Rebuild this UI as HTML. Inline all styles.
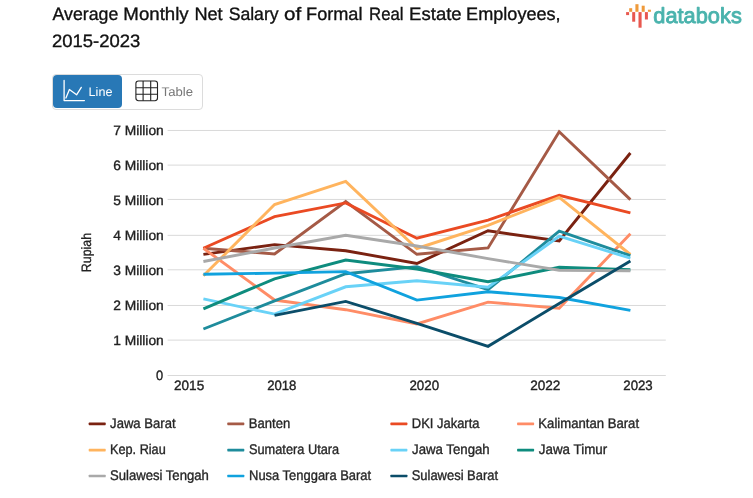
<!DOCTYPE html>
<html lang="en">
<head>
<meta charset="utf-8">
<title>Average Monthly Net Salary of Formal Real Estate Employees, 2015-2023</title>
<style>
html,body{margin:0;padding:0;background:#fff;}
body{width:753px;height:498px;position:relative;overflow:hidden;font-family:"Liberation Sans",sans-serif;color:#111;}
.abs{position:absolute;white-space:nowrap;}
svg{will-change:transform;text-rendering:geometricPrecision;}
#title{left:0;top:0;width:620px;height:56px;margin:0;font-size:18px;font-weight:normal;line-height:0;}
#title svg{display:block;}
#logo{left:620px;top:0;width:133px;height:34px;}
#tabs{left:52px;top:74px;width:149px;height:34px;border:1px solid #dcdcdc;border-radius:4px;}
#tab-line{left:0;top:0;width:69px;height:33px;background:#2878b6;border-radius:4px;}
#tabsvg{left:-1px;top:-1px;}
#chart{left:0;top:0;width:753px;height:498px;}
</style>
</head>
<body>
<h1 id="title" class="abs"><svg width="620" height="56" viewBox="0 0 620 56"><text font-family="Liberation Sans, sans-serif" font-size="18" fill="#111" stroke="#111" stroke-width="0.35"><tspan id="w_average" x="52.60" y="19.90" textLength="65.69" lengthAdjust="spacingAndGlyphs">Average</tspan> <tspan id="w_monthly" x="123.35" y="19.90" textLength="65.33" lengthAdjust="spacingAndGlyphs">Monthly</tspan> <tspan id="w_net" x="194.41" y="19.90" textLength="28.26" lengthAdjust="spacingAndGlyphs">Net</tspan> <tspan id="w_salary" x="228.64" y="19.90" textLength="50.00" lengthAdjust="spacingAndGlyphs">Salary</tspan> <tspan id="w_of" x="283.99" y="19.90" textLength="17.17" lengthAdjust="spacingAndGlyphs">of</tspan> <tspan id="w_formal" x="306.10" y="19.90" textLength="56.38" lengthAdjust="spacingAndGlyphs">Formal</tspan> <tspan id="w_real" x="369.10" y="19.90" textLength="34.47" lengthAdjust="spacingAndGlyphs">Real</tspan> <tspan id="w_estate" x="409.14" y="19.90" textLength="52.54" lengthAdjust="spacingAndGlyphs">Estate</tspan> <tspan id="w_employees" x="466.13" y="19.90" textLength="94.53" lengthAdjust="spacingAndGlyphs">Employees,</tspan> <tspan id="w_years" x="51.97" y="47.00" textLength="88.27" lengthAdjust="spacingAndGlyphs">2015-2023</tspan></text></svg></h1>

<svg id="logo" class="abs" viewBox="620 0 133 34">
  <g fill="#e8584f">
    <rect x="626.1" y="12.1" width="3" height="3"/>
    <rect x="632.2" y="12.1" width="3" height="9.6"/>
    <rect x="638.5" y="12.1" width="3.1" height="15.6"/>
    <rect x="644.9" y="12.1" width="3" height="7.4"/>
  </g>
  <g fill="#ef9a3a">
    <rect x="629.2" y="8.2" width="3" height="3.6"/>
    <rect x="635.4" y="4.2" width="3.1" height="7.6"/>
    <rect x="641.7" y="5.7" width="3" height="6.1"/>
    <rect x="647.9" y="9.7" width="3" height="2.1"/>
  </g>
  <text id="logotext" x="653.3" y="23.3" font-family="Liberation Sans, sans-serif" font-weight="normal" font-size="21.8" fill="#4ab3ad" stroke="#4ab3ad" stroke-width="0.9" stroke-linejoin="round" textLength="88.5" lengthAdjust="spacingAndGlyphs">databoks</text>
</svg>

<div id="tabs" class="abs">
  <div id="tab-line" class="abs"></div>
  <svg id="tabsvg" class="abs" width="151" height="36" viewBox="52 74 151 36">
    <g fill="none" stroke="#fff" stroke-width="1.3" stroke-linecap="round" stroke-linejoin="round">
      <path d="M64.1 80.4V100.6H84.4"/>
      <path d="M65.9 98L69.4 89.5L76.6 94.8L81.3 87.4"/>
    </g>
    <g fill="none" stroke="#222" stroke-width="1.1">
      <rect x="135.9" y="81" width="21.6" height="19.7" rx="2.6"/>
      <path d="M143.1 81V100.7M150.7 81V100.7M135.9 87.7H157.5M135.9 94.3H157.5"/>
    </g>
    <text id="tline" x="88.6" y="95.6" font-family="Liberation Sans, sans-serif" font-size="12.5" fill="#fff" textLength="23.8" lengthAdjust="spacingAndGlyphs">Line</text>
    <text id="ttable" x="161.6" y="95.6" font-family="Liberation Sans, sans-serif" font-size="12.5" fill="#777" textLength="31.4" lengthAdjust="spacingAndGlyphs">Table</text>
  </svg>
</div>

<svg id="chart" class="abs" viewBox="0 0 753 498" font-family="Liberation Sans, sans-serif">
  <path id="grid" d="M167.6 130.47H665.8M167.6 165.10H665.8M167.6 199.45H665.8M167.6 235.34H665.8M167.6 269.80H665.8M167.6 305.47H665.8M167.6 340.10H665.8M167.6 375.50H665.8" stroke="#d9d9d9" stroke-width="1" fill="none"/>
  <text id="y0" x="163.80" y="134.60" text-anchor="end" textLength="50.63" lengthAdjust="spacingAndGlyphs" fill="#222" stroke="#222" stroke-width="0.35" font-size="13.6">7 Million</text>
  <text id="y1" x="163.80" y="169.60" text-anchor="end" textLength="50.63" lengthAdjust="spacingAndGlyphs" fill="#222" stroke="#222" stroke-width="0.35" font-size="13.6">6 Million</text>
  <text id="y2" x="163.80" y="204.60" text-anchor="end" textLength="50.63" lengthAdjust="spacingAndGlyphs" fill="#222" stroke="#222" stroke-width="0.35" font-size="13.6">5 Million</text>
  <text id="y3" x="163.80" y="239.60" text-anchor="end" textLength="50.63" lengthAdjust="spacingAndGlyphs" fill="#222" stroke="#222" stroke-width="0.35" font-size="13.6">4 Million</text>
  <text id="y4" x="163.80" y="274.60" text-anchor="end" textLength="50.63" lengthAdjust="spacingAndGlyphs" fill="#222" stroke="#222" stroke-width="0.35" font-size="13.6">3 Million</text>
  <text id="y5" x="163.80" y="309.60" text-anchor="end" textLength="50.63" lengthAdjust="spacingAndGlyphs" fill="#222" stroke="#222" stroke-width="0.35" font-size="13.6">2 Million</text>
  <text id="y6" x="163.80" y="344.60" text-anchor="end" textLength="50.63" lengthAdjust="spacingAndGlyphs" fill="#222" stroke="#222" stroke-width="0.35" font-size="13.6">1 Million</text>
  <text id="y7" x="163.16" y="379.60" text-anchor="end" textLength="7.15" lengthAdjust="spacingAndGlyphs" fill="#222" stroke="#222" stroke-width="0.35" font-size="13.6">0</text>
  <text id="x2015" x="189.11" y="390.30" text-anchor="middle" textLength="30.15" lengthAdjust="spacingAndGlyphs" fill="#222" stroke="#222" stroke-width="0.35" font-size="13.6">2015</text>
  <text id="x2018" x="281.78" y="390.30" text-anchor="middle" textLength="29.27" lengthAdjust="spacingAndGlyphs" fill="#222" stroke="#222" stroke-width="0.35" font-size="13.6">2018</text>
  <text id="x2020" x="424.24" y="390.30" text-anchor="middle" textLength="29.73" lengthAdjust="spacingAndGlyphs" fill="#222" stroke="#222" stroke-width="0.35" font-size="13.6">2020</text>
  <text id="x2022" x="545.31" y="390.30" text-anchor="middle" textLength="30.27" lengthAdjust="spacingAndGlyphs" fill="#222" stroke="#222" stroke-width="0.35" font-size="13.6">2022</text>
  <text id="x2023" x="638.01" y="390.30" text-anchor="middle" textLength="29.47" lengthAdjust="spacingAndGlyphs" fill="#222" stroke="#222" stroke-width="0.35" font-size="13.6">2023</text>
  <text id="l_jb" x="110.11" y="428.20" text-anchor="start" textLength="65.44" lengthAdjust="spacingAndGlyphs" fill="#262626" stroke="#262626" stroke-width="0.35" font-size="14">Jawa Barat</text>
  <text id="l_b" x="248.80" y="428.20" text-anchor="start" textLength="41.38" lengthAdjust="spacingAndGlyphs" fill="#262626" stroke="#262626" stroke-width="0.35" font-size="14">Banten</text>
  <text id="l_dki" x="411.84" y="428.20" text-anchor="start" textLength="67.60" lengthAdjust="spacingAndGlyphs" fill="#262626" stroke="#262626" stroke-width="0.35" font-size="14">DKI Jakarta</text>
  <text id="l_kb" x="538.35" y="428.20" text-anchor="start" textLength="100.72" lengthAdjust="spacingAndGlyphs" fill="#262626" stroke="#262626" stroke-width="0.35" font-size="14">Kalimantan Barat</text>
  <text id="l_kr" x="110.03" y="454.25" text-anchor="start" textLength="55.71" lengthAdjust="spacingAndGlyphs" fill="#262626" stroke="#262626" stroke-width="0.35" font-size="14">Kep. Riau</text>
  <text id="l_su" x="249.01" y="454.25" text-anchor="start" textLength="90.17" lengthAdjust="spacingAndGlyphs" fill="#262626" stroke="#262626" stroke-width="0.35" font-size="14">Sumatera Utara</text>
  <text id="l_jt" x="412.07" y="454.25" text-anchor="start" textLength="77.65" lengthAdjust="spacingAndGlyphs" fill="#262626" stroke="#262626" stroke-width="0.35" font-size="14">Jawa Tengah</text>
  <text id="l_jtm" x="538.82" y="454.25" text-anchor="start" textLength="68.36" lengthAdjust="spacingAndGlyphs" fill="#262626" stroke="#262626" stroke-width="0.35" font-size="14">Jawa Timur</text>
  <text id="l_st" x="109.95" y="480.20" text-anchor="start" textLength="98.90" lengthAdjust="spacingAndGlyphs" fill="#262626" stroke="#262626" stroke-width="0.35" font-size="14">Sulawesi Tengah</text>
  <text id="l_ntb" x="249.05" y="480.20" text-anchor="start" textLength="122.09" lengthAdjust="spacingAndGlyphs" fill="#262626" stroke="#262626" stroke-width="0.35" font-size="14">Nusa Tenggara Barat</text>
  <text id="l_sb" x="411.70" y="480.20" text-anchor="start" textLength="86.39" lengthAdjust="spacingAndGlyphs" fill="#262626" stroke="#262626" stroke-width="0.35" font-size="14">Sulawesi Barat</text>
  <text id="ytitle" font-size="13.6" fill="#222" stroke="#222" stroke-width="0.3" text-anchor="middle" textLength="39.3" lengthAdjust="spacingAndGlyphs" transform="translate(90.6 252.5) rotate(-90)">Rupiah</text>
  <g id="series" fill="none" stroke-width="2.9" stroke-linejoin="miter" stroke-linecap="butt">
    <polyline stroke="#7a2211" points="203.4,254.4 274.56,244.6 345.72,250.7 416.88,263.5 488.04,230.8 559.2,241.0 630.4,153.0"/>
    <polyline stroke="#a55a46" points="203.4,248.3 274.56,253.9 345.72,201.5 416.88,254.3 488.04,247.9 559.2,131.7 630.4,199.6"/>
    <polyline stroke="#ea4a23" points="203.4,248.3 274.56,216.6 345.72,202.9 416.88,238.2 488.04,220.1 559.2,195.3 630.4,212.9"/>
    <polyline stroke="#ff8c66" points="203.4,248.3 274.56,300.0 345.72,309.7 416.88,324.0 488.04,302.1 559.2,308.3 630.4,233.8"/>
    <polyline stroke="#ffb45e" points="203.4,275.8 274.56,204.5 345.72,181.4 416.88,248.5 488.04,225.3 559.2,197.3 630.4,254.5"/>
    <polyline stroke="#1e8c9c" points="203.4,329.0 274.56,300.9 345.72,273.7 416.88,266.6 488.04,289.7 559.2,231.1 630.4,255.6"/>
    <polyline stroke="#69d2f7" points="203.4,298.9 274.56,314.1 345.72,286.8 416.88,280.7 488.04,287.3 559.2,236.2 630.4,258.2"/>
    <polyline stroke="#0e8c7e" points="203.4,308.8 274.56,278.8 345.72,260.0 416.88,269.0 488.04,281.7 559.2,267.3 630.4,269.7"/>
    <polyline stroke="#a9a9a9" points="203.4,261.5 274.56,248.0 345.72,235.3 416.88,246.0 488.04,258.6 559.2,270.2 630.4,270.8"/>
    <polyline stroke="#10a2de" points="203.4,274.3 274.56,273.1 345.72,271.6 416.88,300.1 488.04,291.8 559.2,297.5 630.4,310.4"/>
    <polyline stroke="#0b4d69" points="274.56,315.3 345.72,301.4 416.88,323.4 488.04,346.3 559.2,303.6 630.4,260.9"/>
  </g>
  <g id="legend-swatches">
  <rect x="88.7" y="422.60" width="17" height="2.6" rx="0.6" fill="#7a2211"/>
  <rect x="227.3" y="422.60" width="17" height="2.6" rx="0.6" fill="#a55a46"/>
  <rect x="390.4" y="422.60" width="17" height="2.6" rx="0.6" fill="#ea4a23"/>
  <rect x="517.1" y="422.60" width="17" height="2.6" rx="0.6" fill="#ff8c66"/>
  <rect x="88.7" y="448.80" width="17" height="2.6" rx="0.6" fill="#ffb45e"/>
  <rect x="227.3" y="448.80" width="17" height="2.6" rx="0.6" fill="#1e8c9c"/>
  <rect x="390.4" y="448.80" width="17" height="2.6" rx="0.6" fill="#69d2f7"/>
  <rect x="517.1" y="448.80" width="17" height="2.6" rx="0.6" fill="#0e8c7e"/>
  <rect x="88.7" y="474.70" width="17" height="2.6" rx="0.6" fill="#a9a9a9"/>
  <rect x="227.3" y="474.70" width="17" height="2.6" rx="0.6" fill="#10a2de"/>
  <rect x="390.4" y="474.70" width="17" height="2.6" rx="0.6" fill="#0b4d69"/>
  </g>
</svg>
</body>
</html>
